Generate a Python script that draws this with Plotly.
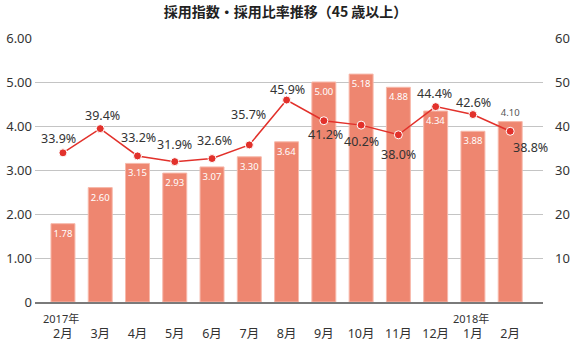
import plotly.graph_objects as go

months = ["2月", "3月", "4月", "5月", "6月", "7月", "8月", "9月", "10月", "11月", "12月", "1月", "2月"]
years = ["2017年", "", "", "", "", "", "", "", "", "", "", "2018年", ""]
index_vals = [1.78, 2.60, 3.15, 2.93, 3.07, 3.30, 3.64, 5.00, 5.18, 4.88, 4.34, 3.88, 4.10]
ratio_vals = [33.9, 39.4, 33.2, 31.9, 32.6, 35.7, 45.9, 41.2, 40.2, 38.0, 44.4, 42.6, 38.8]
left_ticks = [0, 1, 2, 3, 4, 5, 6]
left_ticktext = ["0", "1.00", "2.00", "3.00", "4.00", "5.00", "6.00"]
right_ticks = [0, 10, 20, 30, 40, 50, 60]
right_ticktext = ["", "10", "20", "30", "40", "50", "60"]

# label offsets (style) for percent labels: (xshift, yshift)
label_offsets = [(-4, 14), (2, 13), (1, 18), (0, 17), (2, 18), (-1, 30), (1, 11),
                 (2, -14), (0, -16), (0, -20), (-1, 13), (1, 12), (20, -16)]

x = list(range(len(months)))

bar_pos = ["inside"] * (len(x) - 1) + ["outside"]
bar_txtcol = ["white"] * (len(x) - 1) + ["#555555"]

fig = go.Figure()
fig.add_trace(go.Bar(
    x=x, y=index_vals, text=[f"{v:.2f}" for v in index_vals],
    textposition=bar_pos, insidetextanchor="end", textangle=0,
    textfont=dict(size=9.5, color=bar_txtcol, family="Noto Sans"),
    marker=dict(color="#EE8670", line=dict(color="#F7B9AB", width=1)),
    cliponaxis=False, constraintext="none", yaxis="y", showlegend=False,
))
fig.add_trace(go.Scatter(
    x=x, y=ratio_vals, mode="lines+markers", yaxis="y2",
    line=dict(color="#E2312B", width=1.5),
    marker=dict(size=8, color="#E2312B", line=dict(color="white", width=1)),
    showlegend=False,
))
for xi, v, (dx, dy) in zip(x, ratio_vals, label_offsets):
    fig.add_annotation(x=xi, y=v, yref="y2", text=f"{v:.1f}%", showarrow=False,
                       xshift=dx, yshift=dy, font=dict(size=12.5, color="#333333"))
for xi, yr in zip(x, years):
    if yr:
        fig.add_annotation(x=xi, y=-0.064, xref="x", yref="paper", yanchor="middle",
                           text=yr, showarrow=False, xshift=-2,
                           font=dict(size=11, color="#333333"))

fig.update_layout(
    width=571, height=345,
    margin=dict(l=35, r=28, t=38, b=43, autoexpand=False),
    plot_bgcolor="white", paper_bgcolor="white",
    font=dict(family="Noto Sans, Noto Sans CJK JP", color="#333333"),
    bargap=0.357,
    uniformtext=dict(minsize=9, mode="show"),
    title=dict(text="<b>採用指数・採用比率推移（45 歳以上）</b>", x=0.5, xanchor="center",
               y=0.965, yanchor="middle",
               font=dict(size=14, family="Noto Sans CJK JP", color="#222222")),
    xaxis=dict(range=[-0.75, 12.88], tickmode="array", tickvals=x, ticktext=months,
               showgrid=False, showline=True, linecolor="#7a7a7a", linewidth=2,
               ticks="", automargin=False, ticklabelstandoff=19,
               tickfont=dict(size=12.5, family="Noto Sans, Noto Sans CJK JP", color="#333")),
    yaxis=dict(range=[0, 6], tickmode="array", tickvals=left_ticks, ticktext=left_ticktext,
               showgrid=True, gridcolor="#c4c4c4", gridwidth=1, zeroline=False,
               ticks="", automargin=False, tickfont=dict(size=13, color="#333"), ticklabelstandoff=2),
    yaxis2=dict(range=[0, 60], overlaying="y", side="right", tickmode="array",
                tickvals=right_ticks, ticktext=right_ticktext, showgrid=False, zeroline=False,
                ticks="", automargin=False, tickfont=dict(size=13, color="#333"), ticklabelstandoff=11),
)
fig.write_html("out.html")
